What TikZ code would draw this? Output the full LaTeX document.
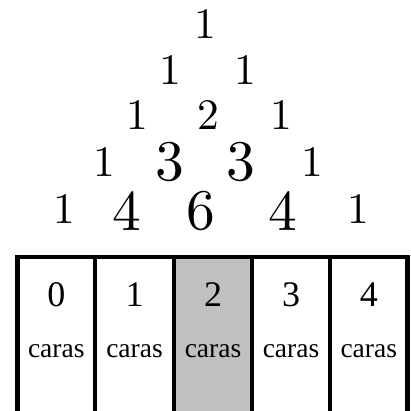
\documentclass[tikz,border=0pt]{standalone}
\usepackage{fontspec}
\usepackage{graphicx}
\newfontfamily\tabla{Liberation Serif}
\usetikzlibrary{positioning}
\definecolor{gris}{RGB}{192,192,192}
\newcommand{\chico}[1]{\scalebox{4.35}{#1}}
\newcommand{\grande}[1]{\scalebox{5.75}{#1}}
\tikzset{
  uno/.style={inner sep=0pt,font=\fontsize{10}{12}\selectfont},
  cifra/.style={inner sep=0pt,font=\tabla\fontsize{36}{42}\selectfont},
  cara/.style={inner sep=0pt,anchor=base,font=\tabla\fontsize{27.5}{32}\selectfont},
  borde/.style={line width=4.5pt,line join=miter},
}
\begin{document}
\begin{tikzpicture}[x=1pt,y=-1pt]
  \useasboundingbox (0,0) rectangle (410,411);
  % triangulo
  \node[uno] (a0) at (205,24) {\chico{1}};
  \node[uno] (b0) at (170,70) {\chico{1}}; \node[uno] (b1) at (245,70) {\chico{1}};
  \node[uno] (c0) at (137,115) {\chico{1}}; \node[uno] (c1) at (208,115) {\chico{2}};
  \node[uno] (c2) at (281,115) {\chico{1}};
  \node[uno] (d0) at (104,162) {\chico{1}}; \node[uno] (d1) at (170,162) {\grande{3}};
  \node[uno] (d2) at (241,162) {\grande{3}}; \node[uno] (d3) at (312,162) {\chico{1}};
  \node[uno] (e0) at (64,209) {\chico{1}}; \node[uno] (e1) at (127,211) {\grande{4}};
  \node[uno] (e2) at (201,211) {\grande{6}};
  \node[uno] (e3) at (283,211) {\grande{4}}; \node[uno] (e4) at (358,209) {\chico{1}};
  % tabla
  \fill[gris] (174,257) rectangle (252,411);
  \draw[borde] (17.5,411) -- (17.5,257) -- (407.5,257) -- (407.5,411);
  \foreach \x in {95,174,252,330} \draw[borde] (\x,257) -- (\x,411);
  \foreach \k/\x in {0/56.25,1/134.5,2/213,3/291,4/368.75} {
    \node[cifra] (n\k) at (\x,294.5) {\k};
    \node[cara] (t\k) at (\x,357) {caras};
  }
\end{tikzpicture}
\end{document}
